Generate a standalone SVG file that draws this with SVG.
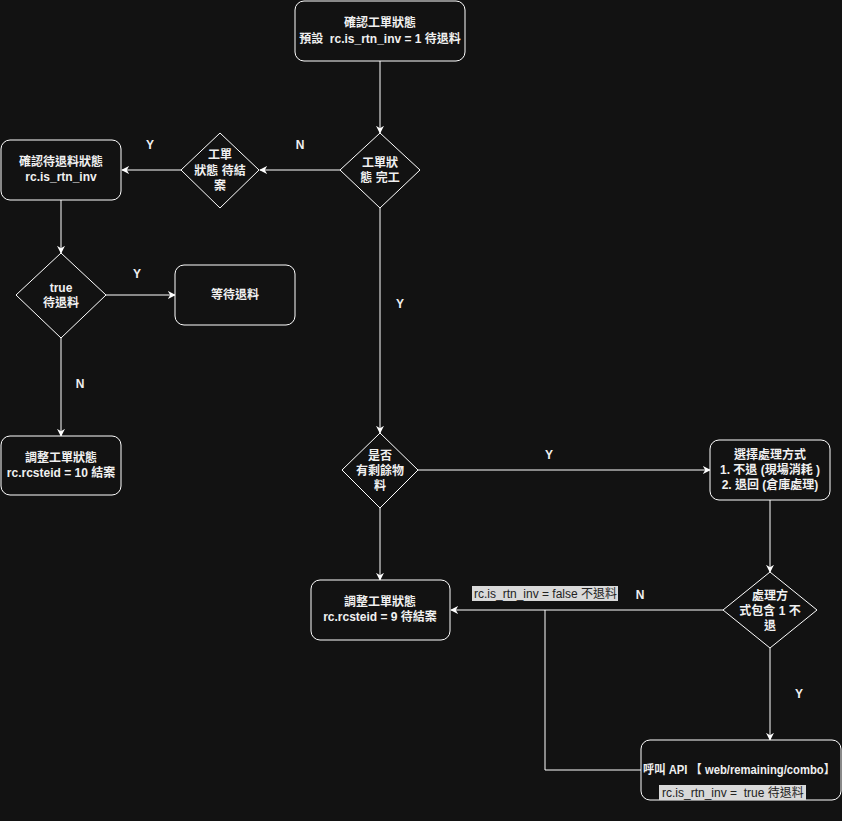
<svg xmlns="http://www.w3.org/2000/svg" width="842" height="821" viewBox="0 0 842 821">
<defs>
<style>
text{white-space:pre}
.n{fill:#121212;stroke:#ffffff;stroke-width:1}
.t{fill:#f0f0f0;font-family:"Liberation Sans","Noto Sans CJK TC",sans-serif;font-size:12px;font-weight:bold;text-anchor:middle}
.e{fill:none;stroke:#ffffff;stroke-width:1}
.lb{fill:#f0f0f0;font-family:"Liberation Sans",sans-serif;font-size:12px;font-weight:bold;text-anchor:middle}
.gl{fill:#d9d9d9}
.gt{fill:#222222;font-family:"Liberation Sans","Noto Sans CJK TC",sans-serif;font-size:12px;text-anchor:start}
</style>
<marker id="a" viewBox="0 0 10 10" refX="9" refY="5" markerWidth="8" markerHeight="8" orient="auto" markerUnits="userSpaceOnUse">
<path d="M0,0 L10,5 L0,10 L3,5 z" fill="#ffffff"/>
</marker>
</defs>
<rect x="0" y="0" width="842" height="821" fill="#121212"/>
<g id="edges">
<path class="e" d="M380,61 V133" marker-end="url(#a)"/>
<path class="e" d="M340,170 H260" marker-end="url(#a)"/>
<path class="e" d="M181,170 H122" marker-end="url(#a)"/>
<path class="e" d="M61,200 V253" marker-end="url(#a)"/>
<path class="e" d="M106,295 H175" marker-end="url(#a)"/>
<path class="e" d="M61,338 V436" marker-end="url(#a)"/>
<path class="e" d="M380,208 V433" marker-end="url(#a)"/>
<path class="e" d="M418,470 H710" marker-end="url(#a)"/>
<path class="e" d="M380,508 V580" marker-end="url(#a)"/>
<path class="e" d="M770,500 V572" marker-end="url(#a)"/>
<path class="e" d="M723,610 H451" marker-end="url(#a)"/>
<path class="e" d="M770,648 V740" marker-end="url(#a)"/>
<path class="e" d="M641,770 H545 V610"/>
<text class="lb" x="300" y="149">N</text>
<text class="lb" x="150" y="149">Y</text>
<text class="lb" x="137" y="278">Y</text>
<text class="lb" x="80" y="388">N</text>
<text class="lb" x="400" y="308">Y</text>
<text class="lb" x="549" y="459">Y</text>
<text class="lb" x="640" y="599">N</text>
<text class="lb" x="799" y="698">Y</text>
<rect class="gl" x="472" y="586" width="146" height="15"/>
<text class="gt" x="474" y="598">rc.is_rtn_inv = false 不退料</text>
</g>
<g id="n1"><rect class="n" x="295" y="1" width="170" height="60" rx="9"/>
<text class="t" x="380" y="27">確認工單狀態</text><text class="t" x="380" y="43">預設  rc.is_rtn_inv = 1 待退料</text></g>
<g id="d1"><path class="n" d="M380,133 L420,170 L380,208 L340,170 Z" stroke-linejoin="round"/>
<text class="t" x="380" y="167">工單狀</text><text class="t" x="380" y="182">態 完工</text></g>
<g id="d2"><path class="n" d="M220,133 L259,170 L220,208 L181,170 Z" stroke-linejoin="round"/>
<text class="t" x="220" y="159">工單</text><text class="t" x="220" y="175">狀態 待結</text><text class="t" x="220" y="190">案</text></g>
<g id="n2"><rect class="n" x="1" y="140" width="120" height="60" rx="9"/>
<text class="t" x="61" y="166">確認待退料狀態</text><text class="t" x="61" y="181">rc.is_rtn_inv</text></g>
<g id="d3"><path class="n" d="M61,253 L106,295 L61,338 L16,295 Z" stroke-linejoin="round"/>
<text class="t" x="61" y="292">true</text><text class="t" x="61" y="307">待退料</text></g>
<g id="n3"><rect class="n" x="175" y="265" width="120" height="60" rx="9"/>
<text class="t" x="235" y="299">等待退料</text></g>
<g id="n4"><rect class="n" x="1" y="436" width="120" height="59" rx="9"/>
<text class="t" x="61" y="462">調整工單狀態</text><text class="t" x="61" y="477">rc.rcsteid = 10 結案</text></g>
<g id="d4"><path class="n" d="M380,433 L418,470 L380,508 L342,470 Z" stroke-linejoin="round"/>
<text class="t" x="380" y="460">是否</text><text class="t" x="380" y="475">有剩餘物</text><text class="t" x="380" y="490">料</text></g>
<g id="n5"><rect class="n" x="710" y="440" width="120" height="60" rx="9"/>
<text class="t" x="770" y="459">選擇處理方式</text><text class="t" x="770" y="474">1. 不退 (現場消耗 )</text><text class="t" x="770" y="489">2. 退回 (倉庫處理)</text></g>
<g id="d5"><path class="n" d="M770,572 L817,610 L770,648 L723,610 Z" stroke-linejoin="round"/>
<text class="t" x="770" y="600">處理方</text><text class="t" x="770" y="615">式包含 1 不</text><text class="t" x="770" y="630">退</text></g>
<g id="n6"><rect class="n" x="311" y="580" width="139" height="60" rx="9"/>
<text class="t" x="380" y="606">調整工單狀態</text><text class="t" x="380" y="621">rc.rcsteid = 9 待結案</text></g>
<g id="n7"><rect class="n" x="641" y="740" width="200" height="60" rx="9"/>
<text class="t" x="643" y="774" style="text-anchor:start" textLength="192" lengthAdjust="spacingAndGlyphs">呼叫 API 【 web/remaining/combo】</text>
<rect class="gl" x="659" y="785" width="147" height="15"/>
<text class="gt" x="662" y="797">rc.is_rtn_inv =  true 待退料</text></g>
</svg>
